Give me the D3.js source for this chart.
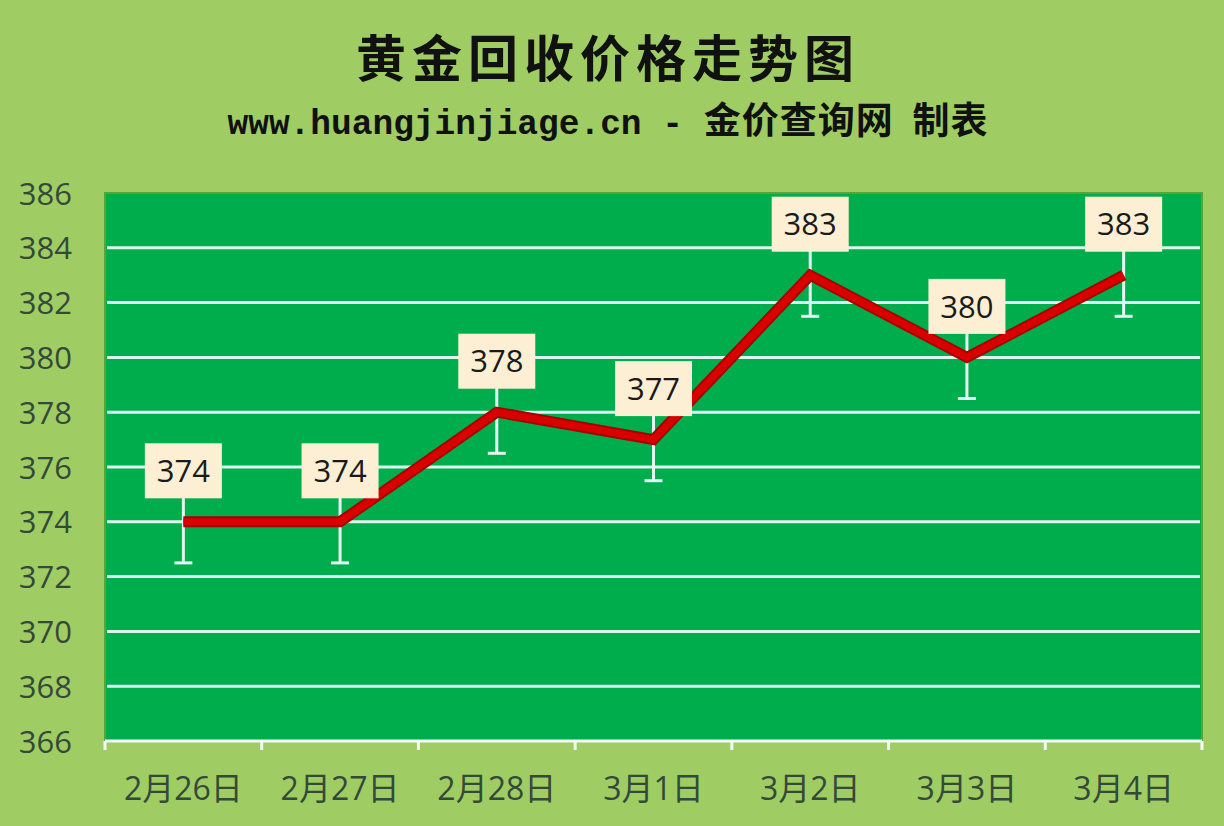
<!DOCTYPE html>
<html>
<head>
<meta charset="utf-8">
<script src="https://cdn.jsdelivr.net/npm/d3@7"></script>
<style>
  html, body { margin: 0; padding: 0; background: #9fcd63; }
  svg { display: block; }
</style>
</head>
<body>
<svg id="chart" width="1224" height="826"></svg>
<script>
// gold recycle price, one point per day; labels sit in cream boxes above each point
const dates = ['2月26日', '2月27日', '2月28日', '3月1日', '3月2日', '3月3日', '3月4日'];
const prices = [374, 374, 378, 377, 383, 380, 383];
const errBar = 1.5;   // symmetric error bar (upper half is hidden by the label box)
const yTicks = [366, 368, 370, 372, 374, 376, 378, 380, 382, 384, 386];

const W = 1224, H = 826;
const margin = { top: 193, right: 22, bottom: 85, left: 105 };
const svg = d3.select('#chart');

svg.append('rect').attr('width', W).attr('height', H).attr('fill', '#9fcd63');

// titles
svg.append('text')
  .attr('x', 608).attr('y', 77)
  .attr('text-anchor', 'middle')
  .attr('font-family', '"Noto Sans CJK SC", sans-serif')
  .attr('font-weight', 700).attr('font-size', 50)
  .attr('letter-spacing', 6)
  .attr('fill', '#111')
  .text('黄金回收价格走势图');

const sub = svg.append('text')
  .attr('x', 608).attr('y', 134)
  .attr('text-anchor', 'middle')
  .attr('font-weight', 700)
  .attr('fill', '#111')
  .style('white-space', 'pre');
sub.append('tspan')
  .attr('font-family', '"Liberation Mono", monospace')
  .attr('font-size', 34.5)
  .text('www.huangjinjiage.cn - ');
sub.append('tspan')
  .attr('font-family', '"Noto Sans CJK SC", sans-serif')
  .attr('font-size', 37)
  .attr('letter-spacing', 1)
  .text('金价查询网  制表');

const x = d3.scaleBand().domain(dates).range([margin.left, W - margin.right]);
const y = d3.scaleLinear().domain([366, 386]).range([H - margin.bottom, margin.top]);

// plot area
svg.append('rect')
  .attr('x', margin.left).attr('y', margin.top)
  .attr('width', W - margin.left - margin.right)
  .attr('height', H - margin.top - margin.bottom)
  .attr('fill', '#00ad4d')
  .attr('stroke', '#5ca23c').attr('stroke-width', 2);

// gridlines
svg.append('g')
  .selectAll('line')
  .data(yTicks.filter((t) => t > 366 && t < 386))
  .join('line')
  .attr('x1', margin.left + 2).attr('x2', W - margin.right - 2)
  .attr('y1', (d) => y(d)).attr('y2', (d) => y(d))
  .attr('stroke', '#dcf6ef').attr('stroke-width', 3);

// y axis labels
const yAxis = svg.append('g')
  .attr('transform', `translate(${margin.left - 33},0)`)
  .call(d3.axisLeft(y).tickValues(yTicks).tickSize(0).tickPadding(0));
yAxis.select('.domain').remove();
yAxis.selectAll('text')
  .attr('font-family', '"Open Sans", "Noto Sans", sans-serif')
  .attr('font-size', 31)
  .attr('fill', '#35493a')
  .attr('dy', '0.36em');

// x axis: white baseline with boundary ticks
const xAxisY = H - margin.bottom;
svg.append('line')
  .attr('x1', margin.left).attr('x2', W - margin.right)
  .attr('y1', xAxisY).attr('y2', xAxisY)
  .attr('stroke', '#f4fbf4').attr('stroke-width', 3);
const bounds = dates.map((d) => x(d)).concat([x(dates[dates.length - 1]) + x.bandwidth()]);
svg.append('g')
  .selectAll('line')
  .data(bounds)
  .join('line')
  .attr('x1', (d) => d).attr('x2', (d) => d)
  .attr('y1', xAxisY).attr('y2', xAxisY + 9)
  .attr('stroke', '#f4fbf4').attr('stroke-width', 3);
svg.append('g')
  .selectAll('text')
  .data(dates)
  .join('text')
  .attr('x', (d) => x(d) + x.bandwidth() / 2)
  .attr('y', 800)
  .attr('text-anchor', 'middle')
  .attr('font-family', '"Open Sans", "Noto Sans CJK SC", sans-serif')
  .attr('font-size', 32)
  .attr('fill', '#35493a')
  .text((d) => d);

const pts = dates.map((d, i) => ({ date: d, v: prices[i], cx: x(d) + x.bandwidth() / 2 }));

// error bars
const gErr = svg.append('g').attr('stroke', '#e2f8f2').attr('stroke-width', 3);
gErr.selectAll('line.bar').data(pts).join('line').attr('class', 'bar')
  .attr('x1', (d) => d.cx).attr('x2', (d) => d.cx)
  .attr('y1', (d) => y(d.v + errBar)).attr('y2', (d) => y(d.v - errBar));
gErr.selectAll('line.cap').data(pts).join('line').attr('class', 'cap')
  .attr('x1', (d) => d.cx - 9).attr('x2', (d) => d.cx + 9)
  .attr('y1', (d) => y(d.v - errBar)).attr('y2', (d) => y(d.v - errBar));

// price line
const line = d3.line().x((d) => d.cx).y((d) => y(d.v));
svg.append('path')
  .datum(pts)
  .attr('d', line)
  .attr('fill', 'none')
  .attr('stroke', '#a80000').attr('stroke-width', 11)
  .attr('stroke-linejoin', 'miter');
svg.append('path')
  .datum(pts)
  .attr('d', line)
  .attr('fill', 'none')
  .attr('stroke', '#d90000').attr('stroke-width', 7)
  .attr('stroke-linejoin', 'miter');

// value labels
const boxW = 77, boxH = 55, boxGap = 51;
const gLab = svg.append('g').selectAll('g').data(pts).join('g')
  .attr('transform', (d) => `translate(${d.cx},${y(d.v) - boxGap})`);
gLab.append('rect')
  .attr('x', -boxW / 2).attr('y', -boxH / 2)
  .attr('width', boxW).attr('height', boxH)
  .attr('fill', '#fcefd4');
gLab.append('text')
  .attr('text-anchor', 'middle')
  .attr('dy', '0.36em')
  .attr('font-family', '"Open Sans", "Noto Sans", sans-serif')
  .attr('font-size', 31)
  .attr('fill', '#1a1a1a')
  .text((d) => d.v);
</script>
</body>
</html>
